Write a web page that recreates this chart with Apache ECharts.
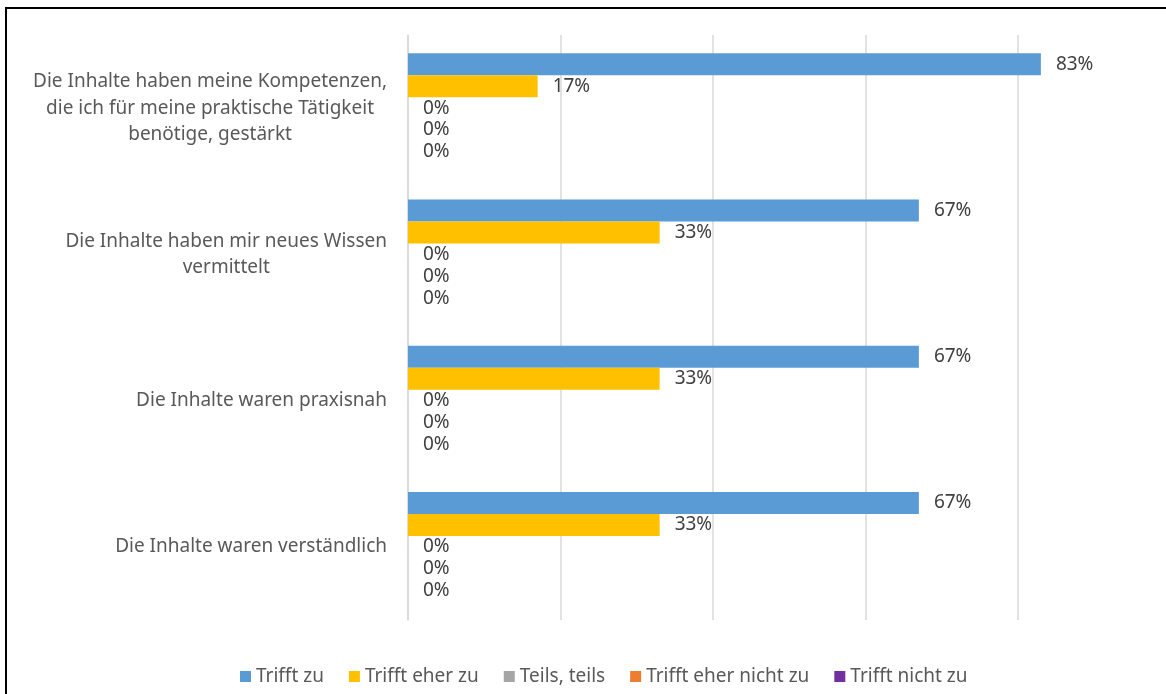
<!DOCTYPE html>
<html>
<head>
<meta charset="utf-8">
<script src="https://cdn.jsdelivr.net/npm/echarts@6/dist/echarts.min.js"></script>
<style>
html,body{margin:0;padding:0;background:#fff;}
#c{width:1166px;height:694px;}
</style>
</head>
<body>
<div id="c"></div>
<script>
const categories = [
  "Die Inhalte haben meine Kompetenzen,\ndie ich für meine praktische Tätigkeit\nbenötige, gestärkt",
  "Die Inhalte haben mir neues Wissen\nvermittelt",
  "Die Inhalte waren praxisnah",
  "Die Inhalte waren verständlich"
];
const seriesNames = ["Trifft zu", "Trifft eher zu", "Teils, teils", "Trifft eher nicht zu", "Trifft nicht zu"];
const trifftZu = [83, 67, 67, 67];
const trifftEherZu = [17, 33, 33, 33];
const teilsTeils = [0, 0, 0, 0];
const trifftEherNichtZu = [0, 0, 0, 0];
const trifftNichtZu = [0, 0, 0, 0];
const xTicks = [0, 20, 40, 60, 80, 100];

const colors = ["#5B9BD5", "#FFC000", "#A5A5A5", "#ED7D31", "#7030A0"];
const values = [trifftZu, trifftEherZu, teilsTeils, trifftEherNichtZu, trifftNichtZu];
const FONT = "Noto Sans";
const FS = 19;

const chart = echarts.init(document.getElementById('c'), null, {renderer: 'canvas'});
chart.setOption({
  animation: false,
  backgroundColor: '#fff',
  color: colors,
  textStyle: {fontFamily: FONT},
  graphic: [
    {type: 'line', shape: {x1: 6, y1: 8, x2: 1166, y2: 8}, style: {stroke: '#000', lineWidth: 2}},
    {type: 'line', shape: {x1: 6, y1: 7, x2: 6, y2: 694}, style: {stroke: '#000', lineWidth: 2}}
  ],
  grid: {left: 408, width: 762.5, top: 35, height: 585, containLabel: false, outerBoundsMode: 'none'},
  legend: {
    left: 240, top: 667, padding: 0,
    itemWidth: 11, itemHeight: 11, itemGap: 25,
    icon: 'rect',
    textStyle: {fontFamily: FONT, fontSize: FS, color: '#595959', padding: [0, 0, 0, 0]},
    data: seriesNames
  },
  xAxis: {
    type: 'value', min: xTicks[0], max: xTicks[xTicks.length - 1], interval: 20,
    axisLabel: {show: false}, axisLine: {show: false}, axisTick: {show: false},
    splitLine: {show: true, lineStyle: {color: '#D9D9D9', width: 1.5}}
  },
  yAxis: {
    type: 'category', inverse: true, data: categories,
    axisLine: {show: true, lineStyle: {color: '#D9D9D9', width: 1.5}},
    axisTick: {show: false},
    axisLabel: {
      margin: 21, align: 'right',
      formatter: v => v.split('\n').map(l => '{c|' + l + '}').join('\n'),
      rich: {c: {align: 'center', fontFamily: FONT, fontSize: FS, color: '#595959', lineHeight: 26.5}}
    }
  },
  series: values.map((d, i) => ({
    name: seriesNames[i], type: 'bar', data: d,
    barGap: '0%', barCategoryGap: '25%',
    label: {show: true, position: 'right', distance: 15, formatter: '{c}%',
      fontFamily: FONT, fontSize: FS, color: '#404040'}
  }))
});
</script>
</body>
</html>
